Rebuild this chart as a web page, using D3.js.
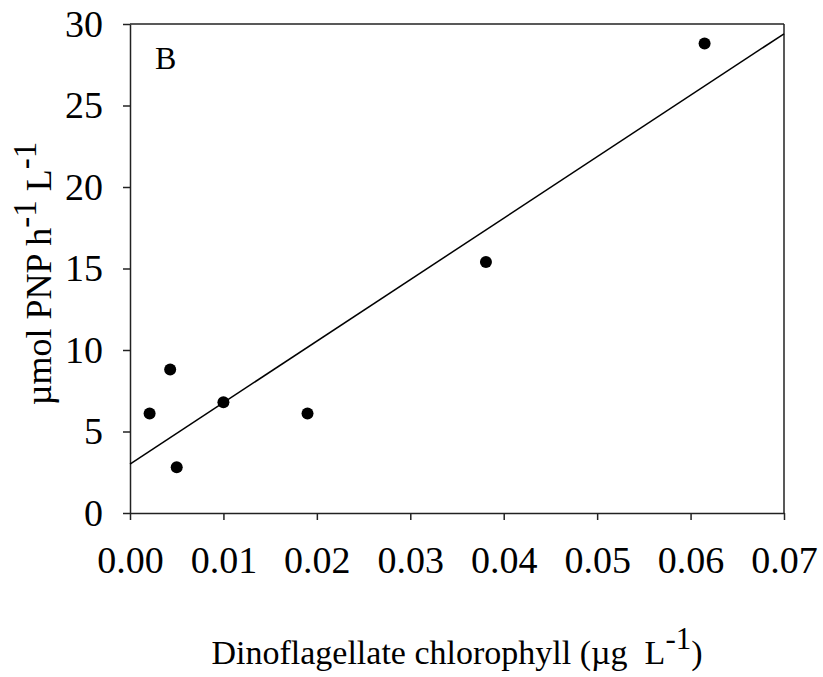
<!DOCTYPE html>
<html>
<head>
<meta charset="utf-8">
<script src="https://cdn.jsdelivr.net/npm/d3@7"></script>
<style>
  html, body { margin: 0; padding: 0; background: #fff; }
  svg { display: block; }
  text { font-family: "Liberation Serif", "Times New Roman", serif; fill: #000; }
</style>
</head>
<body>
<svg id="chart" width="823" height="677"></svg>
<script>
// Data
const chlorophyll = [0.0021, 0.0043, 0.0050, 0.0100, 0.0190, 0.0381, 0.0615];
const activity    = [6.1,    8.8,    2.8,    6.8,    6.1,    15.4,   28.8];
// Regression line endpoints (x, y)
const fitX = [0.0, 0.07];
const fitY = [3.0, 29.4];
const xTicks = [0, 0.01, 0.02, 0.03, 0.04, 0.05, 0.06, 0.07];
const yTicks = [0, 5, 10, 15, 20, 25, 30];

const svg = d3.select("#chart");
const margin = { left: 130, top: 24, right: 39, bottom: 164 };
const W = 823, H = 677;
const iw = W - margin.left - margin.right;
const ih = H - margin.top - margin.bottom;

const x = d3.scaleLinear().domain([0, 0.07]).range([0, iw]);
const y = d3.scaleLinear().domain([0, 30]).range([ih, 0]);

const g = svg.append("g").attr("transform", `translate(${margin.left},${margin.top})`);

// frame (top and right)
g.append("line").attr("x1", 0).attr("x2", iw).attr("y1", 0).attr("y2", 0)
  .attr("stroke", "#222").attr("stroke-width", 1.5);
g.append("line").attr("x1", iw).attr("x2", iw).attr("y1", 0).attr("y2", ih)
  .attr("stroke", "#222").attr("stroke-width", 1.5);

const xAxis = g.append("g").attr("transform", `translate(0,${ih})`)
  .call(d3.axisBottom(x).tickValues(xTicks).tickFormat(d3.format(".2f")).tickSize(7).tickSizeOuter(0).tickPadding(26));
const yAxis = g.append("g")
  .call(d3.axisLeft(y).tickValues(yTicks).tickFormat(d3.format("d")).tickSize(7).tickSizeOuter(0).tickPadding(20));

[xAxis, yAxis].forEach(a => {
  a.selectAll("path.domain").attr("stroke", "#222").attr("stroke-width", 1.5);
  a.selectAll(".tick line").attr("stroke", "#222").attr("stroke-width", 1.5);
  a.selectAll(".tick text").style("font-family", '"Liberation Serif", serif').style("font-size", "38px").attr("fill", "#000");
});

// regression line
g.append("line")
  .attr("x1", x(fitX[0])).attr("y1", y(fitY[0]))
  .attr("x2", x(fitX[1])).attr("y2", y(fitY[1]))
  .attr("stroke", "#000").attr("stroke-width", 1.5);

// points
g.selectAll("circle.pt").data(chlorophyll.map((c, i) => [c, activity[i]]))
  .enter().append("circle").attr("class", "pt")
  .attr("cx", d => x(d[0])).attr("cy", d => y(d[1])).attr("r", 6)
  .attr("fill", "#000");

// panel label
svg.append("text").attr("x", 155).attr("y", 69).style("font-size", "32px").text("B");

// x axis title
const xt = svg.append("text").attr("x", margin.left + iw / 2 - 0).attr("y", 664)
  .attr("text-anchor", "middle").style("font-size", "34px");
xt.append("tspan").text("Dinoflagellate chlorophyll (\u00b5g\u00a0 L");
xt.append("tspan").attr("dy", -15).style("font-size", "31px").text("-1");
xt.append("tspan").attr("dy", 15).text(")");

// y axis title
const yt = svg.append("text")
  .attr("transform", `translate(51,${margin.top + ih / 2 + 5}) rotate(-90)`)
  .attr("text-anchor", "middle").style("font-size", "36px");
yt.append("tspan").text("\u00b5mol PNP h");
yt.append("tspan").attr("dy", -15).style("font-size", "33px").text("-1");
yt.append("tspan").attr("dy", 15).text(" L");
yt.append("tspan").attr("dy", -15).style("font-size", "33px").text("-1");
</script>
</body>
</html>
